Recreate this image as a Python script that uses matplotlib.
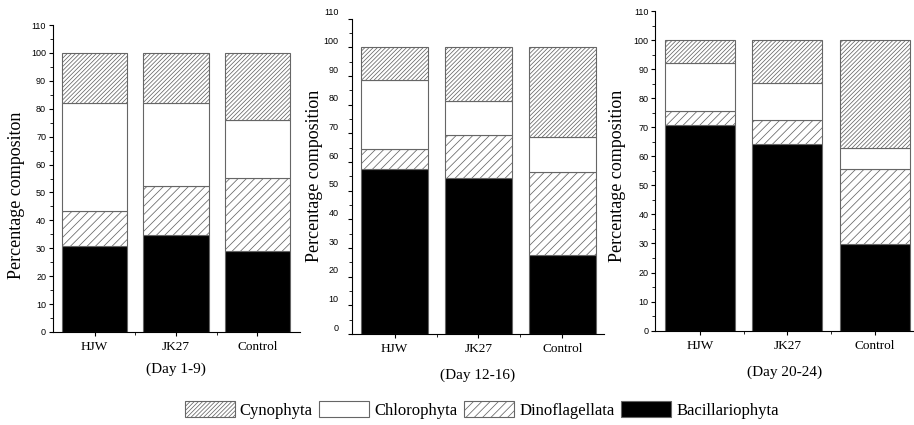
import numpy as np
import matplotlib
matplotlib.use("Agg")
import matplotlib.pyplot as plt
from matplotlib.patches import Patch
from matplotlib.ticker import MultipleLocator
from matplotlib.transforms import ScaledTranslation

plt.rcParams['hatch.linewidth'] = 0.55

groups = ['HJW', 'JK27', 'Control']
titles = ['(Day 1-9)', '(Day 12-16)', '(Day 20-24)']
ylabels = ['Percentage compositon', 'Percentage composition', 'Percentage composition']
series = ['Bacillariophyta', 'Dinoflagellata', 'Chlorophyta', 'Cynophyta']

# percent of each group, per period
bacillariophyta = [[30.7, 34.9, 29.0], [57.6, 54.5, 27.6], [70.9, 64.2, 29.8]]
dinoflagellata = [[12.7, 17.5, 26.1], [6.9, 14.9, 29.1], [4.8, 8.4, 25.7]]
chlorophyta = [[38.7, 29.7, 20.9], [24.0, 12.0, 11.9], [16.4, 12.7, 7.3]]
cynophyta = [[17.9, 17.9, 24.0], [11.5, 18.6, 31.4], [7.9, 14.7, 37.2]]

styles = {
    'Bacillariophyta': dict(color='black', hatch=None),
    'Dinoflagellata': dict(color='white', hatch='////'),
    'Chlorophyta': dict(color='white', hatch=None),
    'Cynophyta': dict(color='white', hatch='////////'),
}
edge = '#666666'

fig = plt.figure(figsize=(9.14, 4.25), dpi=100)
boxes = [[0.058, 0.219, 0.270, 0.722],
         [0.385, 0.214, 0.276, 0.742],
         [0.717, 0.222, 0.282, 0.752]]
xright = [2.52, 2.5, 2.44]
label_y = [0.445, 0.5, 0.485]
ypads = [2, 6.5, 2]
xpads = [7, 10, 10]

serif = 'Liberation Serif'
sans = 'Liberation Sans'

axes = []
for i in range(3):
    ax = fig.add_axes(boxes[i])
    x = np.arange(len(groups))
    bottom = np.zeros(len(groups))
    data = {'Bacillariophyta': bacillariophyta[i], 'Dinoflagellata': dinoflagellata[i],
            'Chlorophyta': chlorophyta[i], 'Cynophyta': cynophyta[i]}
    for s in series:
        vals = np.array(data[s])
        ax.bar(x, vals, 0.8, bottom=bottom, color=styles[s]['color'],
               hatch=styles[s]['hatch'], edgecolor=edge, linewidth=0.8)
        bottom += vals
    ax.set_xlim(-0.51, xright[i])
    ax.set_ylim(0, 110)
    ax.set_yticks(np.arange(0, 111, 10))
    ax.yaxis.set_minor_locator(MultipleLocator(5))
    ax.set_xticks(x)
    ax.set_xticks([0.5, 1.5], minor=True)
    ax.set_xticklabels(groups, fontfamily=serif, fontsize=9.5)
    for lab in ax.get_yticklabels():
        lab.set_fontfamily(sans)
        lab.set_fontsize(6.5)
    ax.spines['top'].set_visible(False)
    ax.spines['right'].set_visible(False)
    ax.tick_params(direction='out', length=3, width=0.8)
    ax.tick_params(which='minor', direction='out', length=2, width=0.6)
    ax.tick_params(axis='y', pad=ypads[i])
    ax.set_ylabel(ylabels[i], fontfamily=serif, fontsize=13)
    ax.yaxis.set_label_coords(-0.115, label_y[i])
    ax.set_xlabel(titles[i], fontfamily=serif, fontsize=11, labelpad=xpads[i])
    axes.append(ax)

# middle panel: tick labels sit a little above their ticks
fig.canvas.draw()
for t in axes[1].yaxis.get_major_ticks():
    t.label1.set_transform(t.label1.get_transform() + ScaledTranslation(0, 0.07, fig.dpi_scale_trans))

handles = [Patch(facecolor=styles[s]['color'], hatch=styles[s]['hatch'], edgecolor=edge, linewidth=0.8)
           for s in ['Cynophyta', 'Chlorophyta', 'Dinoflagellata', 'Bacillariophyta']]
fig.legend(handles, ['Cynophyta', 'Chlorophyta', 'Dinoflagellata', 'Bacillariophyta'],
           loc='center', bbox_to_anchor=(0.527, 0.035), ncol=4, frameon=False,
           prop={'family': serif, 'size': 12}, handlelength=3.0, handleheight=1.1,
           handletextpad=0.3, columnspacing=0.4)

fig.savefig('out.png', dpi=100)
